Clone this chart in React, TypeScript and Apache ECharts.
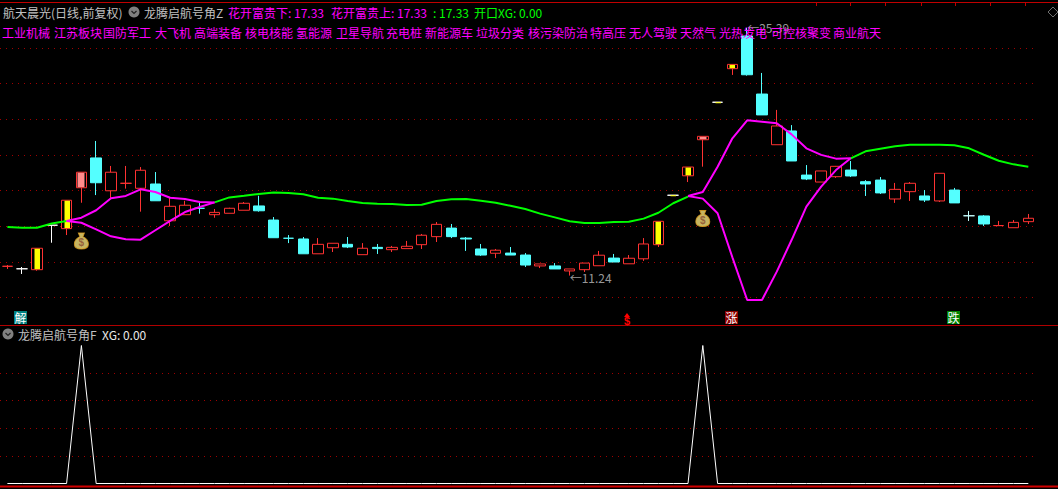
import React, { useEffect, useRef } from "react";
import * as echarts from "echarts";

const days = Array.from({ length: 70 }, (_, i) => "D" + (i + 1));
const opens = [11.76,11.62,11.57,14.06,13.87,16.16,17.83,15.99,16.41,16.13,16.37,14.31,14.65,15.01,14.65,14.73,14.90,15.14,14.35,13.33,13.29,12.46,12.80,12.99,12.41,12.82,12.69,12.75,12.97,13.42,13.90,13.34,12.73,12.49,12.50,12.39,11.78,11.78,11.50,11.57,11.79,12.22,11.90,12.18,12.97,15.74,16.83,18.85,20.95,22.83,24.66,21.41,18.57,19.34,16.87,16.48,16.78,17.15,16.50,16.59,15.53,15.94,15.70,15.42,16.03,14.59,14.58,14.04,13.92,14.26];
const closes = [11.76,11.62,12.77,14.06,15.46,17.03,16.44,17.03,16.41,17.14,15.43,15.12,15.18,15.01,14.78,15.01,15.29,14.87,13.36,13.33,12.46,12.99,13.05,12.84,12.77,12.75,12.82,12.88,13.50,14.11,13.42,13.29,12.39,12.66,12.39,11.83,11.89,11.61,11.61,11.94,12.38,12.00,12.21,13.01,14.28,15.74,17.32,19.04,20.95,23.07,22.49,20.24,19.62,17.66,16.65,17.10,17.36,16.82,16.37,15.87,16.07,16.41,15.47,16.97,15.31,14.59,14.13,14.04,14.22,14.45];
const lows = [11.61,11.33,11.51,13.08,13.51,15.32,15.75,15.57,16.11,14.82,15.43,14.02,14.65,14.71,14.48,14.73,14.90,14.82,13.36,13.06,12.46,12.46,12.56,12.78,12.41,12.45,12.56,12.75,12.73,13.12,13.34,12.62,12.34,12.22,12.39,11.72,11.66,11.61,11.24,11.44,11.79,12.00,11.90,12.06,12.84,15.74,16.48,17.34,20.95,22.48,22.44,20.24,18.57,17.66,16.59,16.48,16.71,16.76,15.70,15.81,15.31,15.42,15.36,15.36,15.31,14.30,14.02,14.02,13.92,14.13];
const highs = [11.83,11.72,12.77,14.06,15.46,17.03,18.78,17.38,17.38,17.32,17.04,15.62,15.43,15.36,14.97,15.04,15.36,15.71,14.52,13.51,13.40,13.34,13.05,13.40,13.06,13.01,12.90,13.18,13.57,14.24,14.13,13.40,13.01,12.73,12.84,12.50,11.89,11.94,11.61,11.94,12.62,12.45,12.39,13.34,14.28,15.74,17.32,19.04,20.95,23.07,25.12,22.59,20.52,19.67,17.43,17.10,17.38,17.66,16.59,16.76,16.43,16.48,16.03,16.97,16.15,14.86,14.63,14.30,14.35,14.69];
const kindList = ["r","w","r","w","r","r","c","r","r","r","c","r","r","c","r","r","r","c","c","c","c","r","r","c","r","c","r","r","r","r","c","c","c","r","c","c","r","c","r","r","r","c","r","r","r","w","r","r","w","r","c","c","r","c","c","r","r","c","c","c","r","r","c","r","c","l","c","r","r","r"];
const yellowDays = [2, 4, 44, 45, 46, 48, 49];
const pinkDays = [5, 47];

const _ = null;
const greenLine = [13.96,13.92,13.92,14.16,14.30,_,_,_,_,_,_,_,_,_,15.34,15.62,15.71,15.81,15.90,15.87,15.79,15.60,15.55,15.42,15.31,15.27,15.25,15.19,15.21,15.42,15.51,15.53,15.43,15.32,15.15,14.97,14.71,14.50,14.28,14.18,14.18,14.24,14.26,14.43,14.76,15.29,15.66,_,_,_,_,_,_,_,_,_,_,17.81,18.20,18.35,18.48,18.57,18.57,18.57,18.54,18.37,18.01,17.67,17.47,17.34];
const upperLine = [_,_,_,_,14.30,14.48,14.90,15.57,15.70,16.07,15.92,15.60,15.53,15.36,15.34,_,_,_,_,_,_,_,_,_,_,_,_,_,_,_,_,_,_,_,_,_,_,_,_,_,_,_,_,_,_,_,15.70,15.92,17.34,18.93,19.94,19.86,19.77,19.15,18.37,18.00,17.79,17.81,_,_,_,_,_,_,_,_,_,_,_,_];
const lowerLine = [_,_,_,_,14.30,14.20,13.83,13.44,13.27,13.25,13.78,14.30,14.80,15.08,15.34,_,_,_,_,_,_,_,_,_,_,_,_,_,_,_,_,_,_,_,_,_,_,_,_,_,_,_,_,_,_,_,15.70,15.55,14.73,12.26,9.87,9.87,11.46,13.23,15.10,16.22,17.15,17.81,_,_,_,_,_,_,_,_,_,_,_,_];
const xgPeaks = [5, 47];
const xgValues = days.map((_d, i) => (xgPeaks.includes(i) ? 1 : 0));

const bagPoints = [[5, 13.18], [47, 14.44]];
const extremePoints = [
  { day: 50, price: 25.12, text: "←25.39" },
  { day: 38, price: 11.12, text: "←11.24" },
];

const sectors = [
  ["工业机械", 2], ["江苏板块", 54], ["国防军工", 103], ["大飞机", 155], ["高端装备", 194], ["核电核能", 245],
  ["氢能源", 296], ["卫星导航", 336], ["充电桩", 386], ["新能源车", 425], ["垃圾分类", 476], ["核污染防治", 528],
  ["特高压", 590], ["无人驾驶", 629], ["天然气", 680], ["光热发电", 719], ["可控核聚变", 771], ["商业航天", 833],
] as [string, number][];
const headerTexts = [
  ["航天晨光(日线,前复权)", 3, "#c0c0c0"], ["龙腾启航号角Z", 144, "#c0c0c0"],
  ["花开富贵下: 17.33", 228, "#ff00ff"], ["花开富贵上: 17.33", 331, "#ff00ff"],
  [": 17.33", 433, "#00ff00"], ["开口XG: 0.00", 474, "#00ff00"],
] as [string, number, string][];
const signalBoxes = [
  ["解", 20.5, "#008080"], ["涨", 731.5, "#8a0000"], ["跌", 953.5, "#008000"],
] as [string, number, string][];
const topTicks = [816, 850, 885, 921, 955, 990, 1025];

const FONT = '12px "Noto Sans CJK SC"';
const RED_LINE = "#b00000";
const DOT = { color: "#a00000", width: 1, type: [1, 5] as number[] };

const styleOf = (k: string) => {
  const c = k === "r" ? "#ff3232" : k === "c" ? "#54ffff" : k === "w" ? "#ffffff" : "#c8ffff";
  const fill = k === "r" ? "#000000" : c;
  return { color: fill, color0: fill, borderColor: c, borderColor0: c, borderColorDoji: c, borderWidth: 1 };
};

const text = (t: string, x: number, y: number, fill: string, font = FONT, align = "left") => ({
  type: "text", x, y, z: 20,
  style: { text: t, fill, font, textAlign: align, textVerticalAlign: "middle" },
});
const chevron = (cx: number, cy: number) => [
  { type: "circle", z: 20, shape: { cx, cy, r: 5.5 }, style: { fill: "#808080" } },
  { type: "polyline", z: 21, shape: { points: [[cx - 2.5, cy - 1], [cx, cy + 1.5], [cx + 2.5, cy - 1]] }, style: { stroke: "#202020", lineWidth: 1.2, fill: "none" } },
];
const hline = (y: number, x1: number, x2: number, w: number, c = RED_LINE) => ({
  type: "line", z: 15, shape: { x1, y1: y, x2, y2: y }, style: { stroke: c, lineWidth: w },
});

export default function App() {
  const ref = useRef<HTMLDivElement>(null);
  useEffect(() => {
    document.body.style.margin = "0";
    document.body.style.background = "#000";
    const chart = echarts.init(ref.current!, undefined, { renderer: "svg" });
    const candleData = days.map((_d, i) => ({
      value: [opens[i], closes[i], lows[i], highs[i]],
      itemStyle: styleOf(kindList[i]),
    }));
    const overlay = (list: number[]) => list.map((i) => [i, opens[i], closes[i]]);
    const line = (name: string, data: any[], color: string, width = 2, xi = 0) => ({
      name, type: "line", data, xAxisIndex: xi, yAxisIndex: xi, showSymbol: false, symbol: "none",
      connectNulls: false, z: 5, lineStyle: { color, width }, itemStyle: { color },
    });
    const bodyRect = (half: number, w: number, fill: string) => (_p: any, api: any) => {
      const a = api.coord([api.value(0), api.value(1)]);
      const b = api.coord([api.value(0), api.value(2)]);
      const raw = Math.abs(a[1] - b[1]);
      return {
        type: "rect",
        shape: { x: Math.round(a[0]) - half, y: Math.min(a[1], b[1]) + (raw > 2 ? 0.5 : 0), width: w, height: Math.max(1, raw - 1) },
        style: { fill },
      };
    };
    chart.setOption({
      animation: false,
      backgroundColor: "#000000",
      tooltip: { show: false },
      grid: [
        { left: -1.408, width: 1037.12, top: 12.1, height: 321.3 },
        { left: -1.408, width: 1037.12, top: 345.5, height: 138 },
      ],
      xAxis: [0, 1].map((g) => ({
        type: "category", gridIndex: g, data: days, boundaryGap: true,
        axisLine: { show: false }, axisTick: { show: false }, axisLabel: { show: false }, splitLine: { show: false },
      })),
      yAxis: [
        { type: "value", gridIndex: 0, min: 8, max: 26, interval: 2, axisLine: { show: false }, axisTick: { show: false }, axisLabel: { show: false },
          splitLine: { show: true, showMinLine: false, showMaxLine: false, lineStyle: DOT } },
        { type: "value", gridIndex: 1, min: 0, max: 1, interval: 0.2, axisLine: { show: false }, axisTick: { show: false }, axisLabel: { show: false },
          splitLine: { show: true, showMinLine: false, showMaxLine: false, lineStyle: DOT } },
      ],
      series: [
        { name: "K", type: "candlestick", data: candleData, barWidth: 11, z: 3 },
        { name: "yellow", type: "custom", z: 4, data: overlay(yellowDays), encode: { x: 0, y: [1, 2] }, renderItem: bodyRect(2.5, 5.5, "#ffff00") },
        { name: "pink", type: "custom", z: 4, data: overlay(pinkDays), encode: { x: 0, y: [1, 2] }, renderItem: bodyRect(3.5, 7, "#ff8c8c") },
        line("MA", greenLine, "#00ff00"),
        line("花开富贵上", upperLine, "#ff00ff"),
        line("花开富贵下", lowerLine, "#ff00ff"),
        { name: "bag", type: "scatter", data: bagPoints, z: 8,
          symbol: "path://M4 0 H10 L8.5 4 C13 6 14 10 14 12 C14 15.5 11 17 7 17 C3 17 0 15.5 0 12 C0 10 1 6 5.5 4 Z",
          symbolSize: [14, 16], itemStyle: { color: "#f8e27a", borderColor: "#e0a020", borderWidth: 1 },
          label: { show: true, formatter: "$", position: "inside", offset: [0, 2], color: "#8a4a30", fontSize: 10, fontWeight: "bold", fontFamily: "Liberation Sans" } },
        { name: "extreme", type: "scatter", symbolSize: 0, z: 9,
          data: extremePoints.map((p) => ({ value: [p.day, p.price], label: { formatter: p.text } })),
          label: { show: true, position: "right", distance: 0, color: "#c0c0c0", fontSize: 12, fontFamily: "Noto Sans CJK SC" } },
        line("XG", xgValues, "#ffffff", 1, 1),
      ],
      graphic: { elements: [
        hline(2.5, 0, 1058, 1, "#c00000"),
        ...topTicks.map((x) => ({ type: "line", z: 15, shape: { x1: x + 0.5, y1: 2, x2: x + 0.5, y2: 6 }, style: { stroke: "#c00000", lineWidth: 1 } })),
        hline(325.5, 0, 1058, 1),
        hline(486.5, 0, 1058, 2, "#d00000"),
        ...headerTexts.map(([t, x, c]) => text(t, x, 12, c)),
        ...sectors.map(([t, x]) => text(t, x, 32, "#ff00ff")),
        ...chevron(134, 12),
        ...chevron(8, 334),
        { type: "polygon", z: 20, shape: { points: [[1053, 7], [1058, 12], [1053, 17], [1048, 12]] }, style: { fill: "none", stroke: "#707070", lineWidth: 1 } },
        text("龙腾启航号角F", 18, 334, "#c0c0c0"),
        text("XG: 0.00", 102, 334, "#e8e8e8"),
        ...signalBoxes.flatMap(([t, cx, c]) => [
          { type: "rect", z: 20, shape: { x: cx - 6.5, y: 311, width: 13, height: 13 }, style: { fill: c } },
          text(t, cx, 317.5, "#ffffff", FONT, "center"),
        ]),
        { type: "polygon", z: 20, shape: { points: [[627, 313], [630, 317], [624, 317]] }, style: { fill: "#ff0000" } },
        text("$", 627, 321, "#ff0000", 'bold 11px "Liberation Sans"', "center"),
      ] },
    });
    return () => chart.dispose();
  }, []);
  return <div ref={ref} style={{ position: "absolute", left: 0, top: 0, width: 1058, height: 489, background: "#000" }} />;
}
